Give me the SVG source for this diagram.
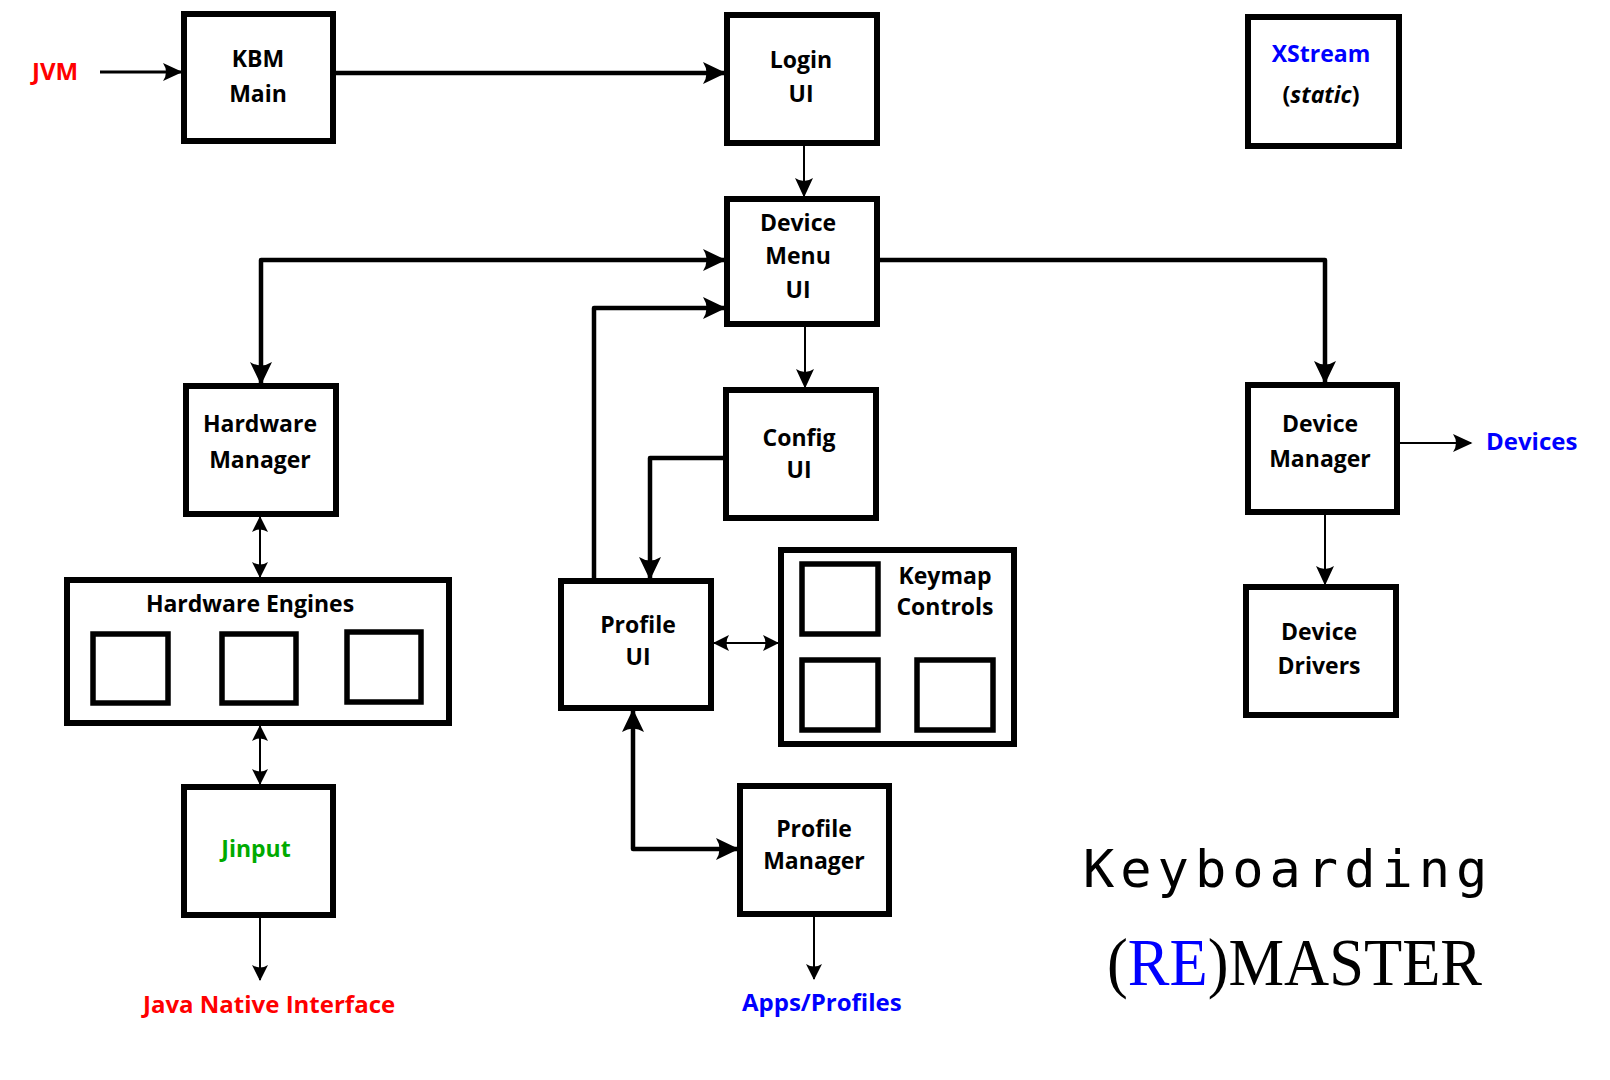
<svg xmlns="http://www.w3.org/2000/svg" width="1610" height="1080" viewBox="0 0 1610 1080">
<style>
.box{fill:#fff;stroke:#000;stroke-width:6}
.sq{fill:#fff;stroke:#000;stroke-width:5.5}
.lbl{font-family:"Open Sans","Liberation Sans",sans-serif;font-weight:bold;font-size:23px;fill:#000;text-anchor:middle}
.ext{font-family:"Open Sans","Liberation Sans",sans-serif;font-weight:bold;font-size:24px}
.red{fill:#ff0000}
.blue{fill:#0000ff}
.green{fill:#00aa00}
.thick{fill:none;stroke:#000;stroke-width:4.5;stroke-linejoin:round}
.thin{fill:none;stroke:#000;stroke-width:2}
.mid{fill:none;stroke:#000;stroke-width:3}
</style>
<defs>
<marker id="big" viewBox="-22 -11 24 22" refX="0" refY="0" markerWidth="24" markerHeight="22" orient="auto-start-reverse" markerUnits="userSpaceOnUse"><path d="M2,0 L-21,-11 Q-14,0 -21,11 Z" fill="#000"/></marker>
<marker id="med" viewBox="-19 -9 21 18" refX="0" refY="0" markerWidth="21" markerHeight="18" orient="auto-start-reverse" markerUnits="userSpaceOnUse"><path d="M1.5,0 L-18,-9 Q-12,0 -18,9 Z" fill="#000"/></marker>
<marker id="sm" viewBox="-16 -8 17 16" refX="0" refY="0" markerWidth="17" markerHeight="16" orient="auto-start-reverse" markerUnits="userSpaceOnUse"><path d="M1,0 L-15,-8 Q-10,0 -15,8 Z" fill="#000"/></marker>
</defs>
<rect width="1610" height="1080" fill="#fff"/>

<g id="connectors">
<path class="mid" d="M100,72 H181" marker-end="url(#med)"/>
<path class="thick" d="M336,73 H724" marker-end="url(#big)"/>
<path class="thin" d="M804,146 V196" marker-end="url(#med)"/>
<path class="thick" d="M724,260 H261 V383" marker-start="url(#big)" marker-end="url(#big)"/>
<path class="thick" d="M594,578 V308 H724" marker-end="url(#big)"/>
<path class="thin" d="M805,327 V387" marker-end="url(#med)"/>
<path class="thick" d="M723,458 H650 V578" marker-end="url(#big)"/>
<path class="thick" d="M880,260 H1325 V382" marker-end="url(#big)"/>
<path class="thin" d="M1400,443 H1471" marker-end="url(#med)"/>
<path class="thin" d="M1325,515 V584" marker-end="url(#med)"/>
<path class="thin" d="M260,517 V577" marker-start="url(#sm)" marker-end="url(#sm)"/>
<path class="thin" d="M260,726 V784" marker-start="url(#sm)" marker-end="url(#sm)"/>
<path class="thin" d="M260,918 V980" marker-end="url(#sm)"/>
<path class="thin" d="M714,643 H778" marker-start="url(#sm)" marker-end="url(#sm)"/>
<path class="thick" d="M633,711 V849 H737" marker-start="url(#big)" marker-end="url(#big)"/>
<path class="thin" d="M814,917 V979" marker-end="url(#sm)"/>
</g>

<g id="jvm"><text class="ext red" x="32" y="80">JVM</text></g>

<g id="kbm-main">
<rect class="box" x="184" y="14" width="149" height="127"/>
<text class="lbl" x="258" y="67">KBM</text>
<text class="lbl" x="258" y="102">Main</text>
</g>

<g id="login-ui">
<rect class="box" x="727" y="15" width="150" height="128"/>
<text class="lbl" x="801" y="68">Login</text>
<text class="lbl" x="801" y="102">UI</text>
</g>

<g id="xstream">
<rect class="box" x="1248" y="17" width="151" height="129"/>
<text class="lbl blue" x="1321" y="62">XStream</text>
<text class="lbl" x="1321" y="103">(<tspan font-style="italic">static</tspan>)</text>
</g>

<g id="device-menu-ui">
<rect class="box" x="727" y="199" width="150" height="125"/>
<text class="lbl" x="798" y="231">Device</text>
<text class="lbl" x="798" y="264">Menu</text>
<text class="lbl" x="798" y="298">UI</text>
</g>

<g id="hardware-manager">
<rect class="box" x="186" y="386" width="150" height="128"/>
<text class="lbl" x="260" y="432">Hardware</text>
<text class="lbl" x="260" y="468">Manager</text>
</g>

<g id="config-ui">
<rect class="box" x="726" y="390" width="150" height="128"/>
<text class="lbl" x="799" y="446">Config</text>
<text class="lbl" x="799" y="478">UI</text>
</g>

<g id="device-manager">
<rect class="box" x="1248" y="385" width="149" height="127"/>
<text class="lbl" x="1320" y="432">Device</text>
<text class="lbl" x="1320" y="467">Manager</text>
</g>

<g id="devices"><text class="ext blue" x="1486" y="450">Devices</text></g>

<g id="hardware-engines">
<rect class="box" x="67" y="580" width="382" height="143"/>
<text class="lbl" x="250" y="612">Hardware Engines</text>
<rect class="sq" x="93" y="634" width="75" height="69"/>
<rect class="sq" x="222" y="634" width="74" height="69"/>
<rect class="sq" x="347" y="632" width="74" height="70"/>
</g>

<g id="profile-ui">
<rect class="box" x="561" y="581" width="150" height="127"/>
<text class="lbl" x="638" y="633">Profile</text>
<text class="lbl" x="638" y="665">UI</text>
</g>

<g id="keymap-controls">
<rect class="box" x="781" y="550" width="233" height="194"/>
<rect class="sq" x="802" y="564" width="76" height="70"/>
<rect class="sq" x="802" y="660" width="76" height="70"/>
<rect class="sq" x="917" y="660" width="76" height="70"/>
<text class="lbl" x="945" y="584">Keymap</text>
<text class="lbl" x="945" y="615">Controls</text>
</g>

<g id="device-drivers">
<rect class="box" x="1246" y="587" width="150" height="128"/>
<text class="lbl" x="1319" y="640">Device</text>
<text class="lbl" x="1319" y="674">Drivers</text>
</g>

<g id="jinput">
<rect class="box" x="184" y="787" width="149" height="128"/>
<text class="lbl green" x="256" y="857">Jinput</text>
</g>

<g id="jni"><text class="ext red" x="143" y="1013">Java Native Interface</text></g>

<g id="profile-manager">
<rect class="box" x="740" y="786" width="149" height="128"/>
<text class="lbl" x="814" y="837">Profile</text>
<text class="lbl" x="814" y="869">Manager</text>
</g>

<g id="apps-profiles"><text class="ext blue" x="742" y="1011">Apps/Profiles</text></g>

<g id="title">
<text x="1083" y="887" font-family="'DejaVu Sans Mono','Liberation Mono',monospace" font-size="52" letter-spacing="6" fill="#000">Keyboarding</text>
<text x="1107" y="985" font-family="'Liberation Serif','DejaVu Serif',serif" font-size="68" textLength="375" lengthAdjust="spacingAndGlyphs" fill="#000">(<tspan fill="#0000ff">RE</tspan>)MASTER</text>
</g>
</svg>
